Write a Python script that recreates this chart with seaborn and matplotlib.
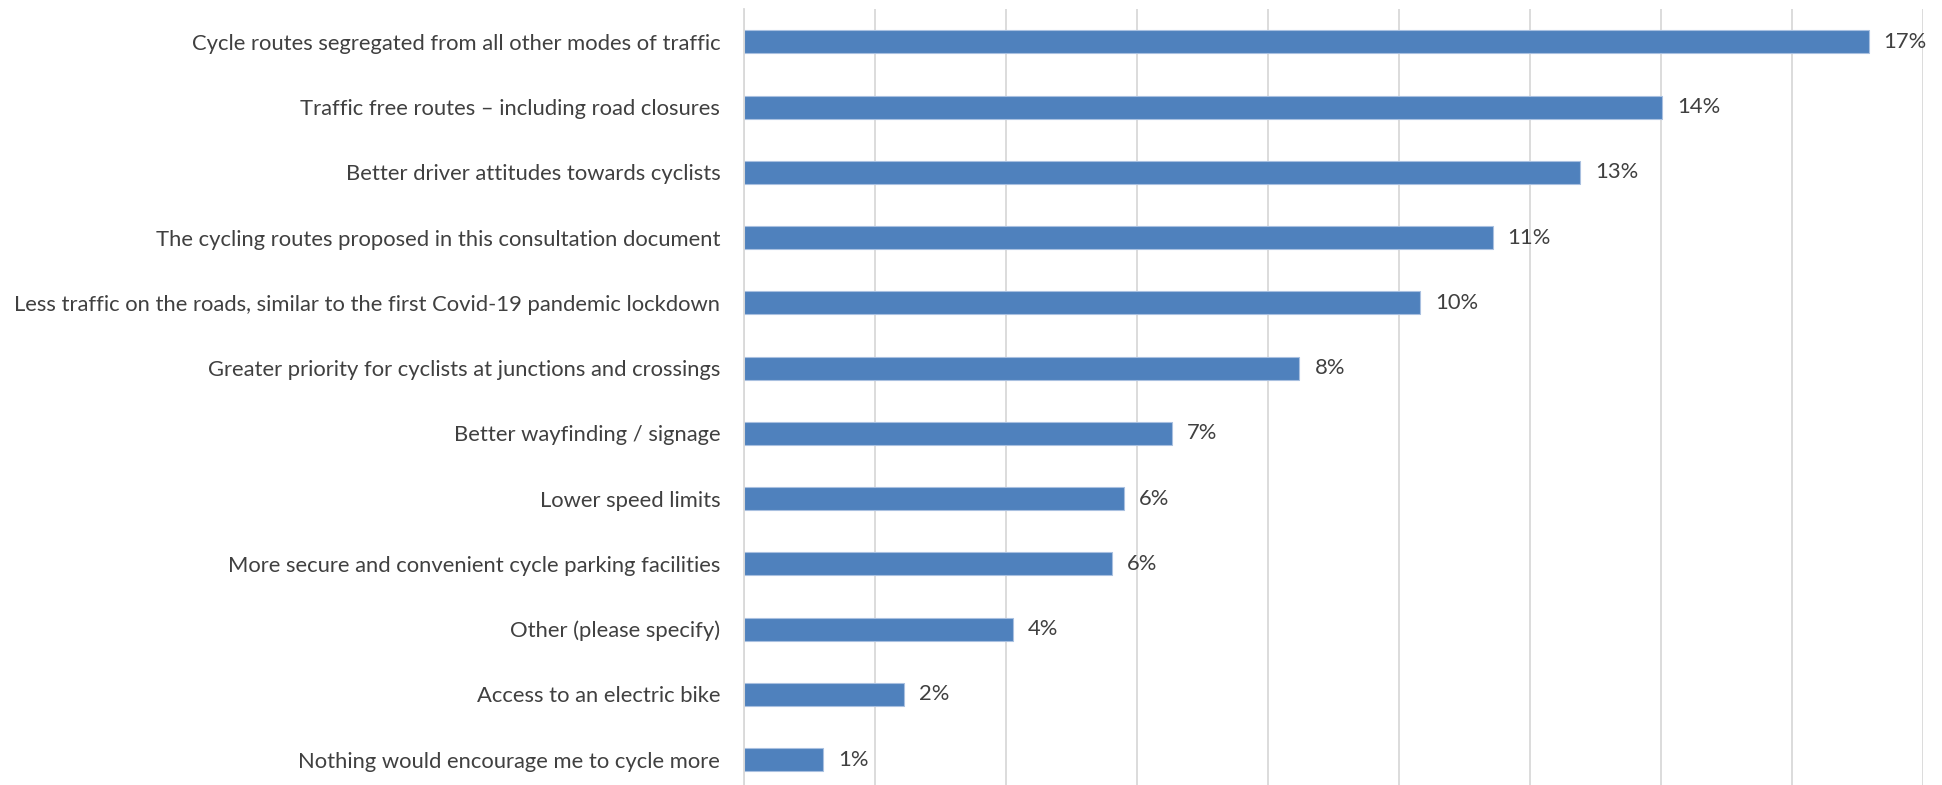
import matplotlib
matplotlib.use("Agg")
import matplotlib.pyplot as plt
import pandas as pd
import seaborn as sns

# Answers and share of respondents (%)
categories = [
    "Cycle routes segregated from all other modes of traffic",
    "Traffic free routes \u2013 including road closures",
    "Better driver attitudes towards cyclists",
    "The cycling routes proposed in this consultation document",
    "Less traffic on the roads, similar to the first Covid-19 pandemic lockdown",
    "Greater priority for cyclists at junctions and crossings",
    "Better wayfinding / signage",
    "Lower speed limits",
    "More secure and convenient cycle parking facilities",
    "Other (please specify)",
    "Access to an electric bike",
    "Nothing would encourage me to cycle more",
]
shares = [17.17, 14.02, 12.77, 11.43, 10.32, 8.48, 6.54, 5.80, 5.62, 4.10, 2.45, 1.21]

df = pd.DataFrame({"answer": categories, "share": shares})

sns.set_style("white")
plt.rcParams["font.family"] = ["Lato", "DejaVu Sans"]

text_color = "#404040"
font_size = 15.8

fig = plt.figure(figsize=(19.42, 7.85), dpi=100)
ax = fig.add_axes([0.3831, -0.0093, 0.6071, 0.9975])

sns.barplot(data=df, x="share", y="answer", ax=ax, color="#4F81BD",
            width=0.35, saturation=1, edgecolor="#A9C0E0", linewidth=0.8)

ax.set_xlim(0, 18)
ax.set_ylim(11.5, -0.5)
ax.set_xticks(range(0, 19, 2))
ax.set_xticklabels([])
ax.grid(axis="x", color="#D9D9D9", linewidth=1.3)
ax.set_axisbelow(True)
for s in ["top", "right", "bottom"]:
    ax.spines[s].set_visible(False)
ax.spines["left"].set_color("#D9D9D9")
ax.spines["left"].set_linewidth(1.3)

ax.set_xlabel("")
ax.set_ylabel("")
ax.tick_params(axis="y", length=0, pad=17, labelsize=font_size, labelcolor=text_color)
ax.tick_params(axis="x", length=0)

# value labels, rounded like the source
for i, v in enumerate(shares):
    ax.annotate(f"{round(v)}%", xy=(v, i), xytext=(15, 0), textcoords="offset pixels",
                va="center", ha="left", fontsize=font_size, color=text_color)

fig.savefig("out.png", dpi=100)
